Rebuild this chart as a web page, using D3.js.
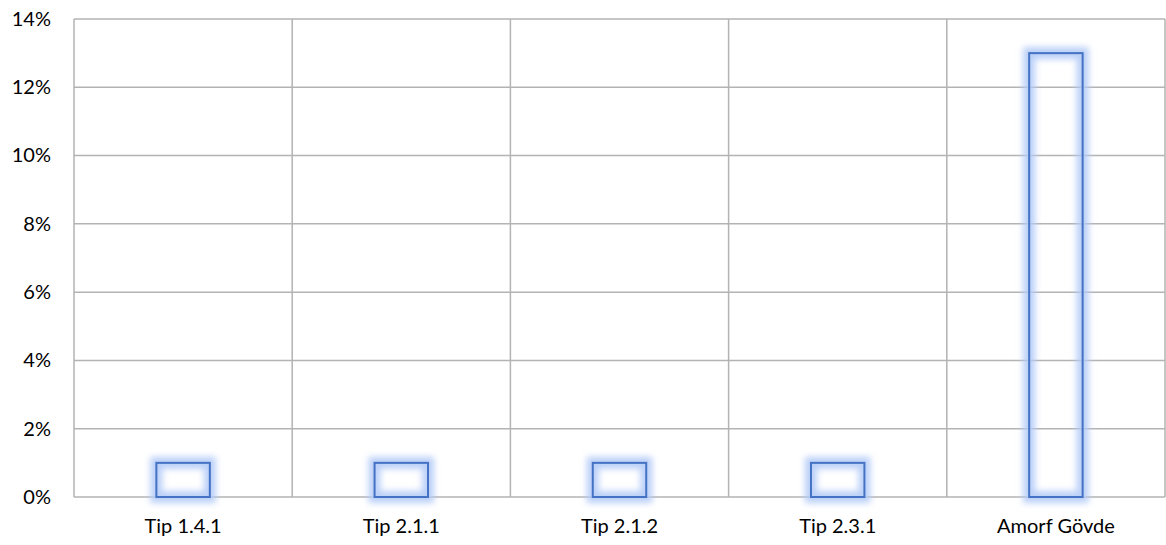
<!DOCTYPE html>
<html><head><meta charset="utf-8">
<script src="https://cdn.jsdelivr.net/npm/d3@7"></script>
<style>body{margin:0;background:#fff}svg{display:block}</style>
</head><body>
<script>
const categories = ["Tip 1.4.1","Tip 2.1.1","Tip 2.1.2","Tip 2.3.1","Amorf Gövde"];
const values = [0.01,0.01,0.01,0.01,0.13];
const yTicks = [0,0.02,0.04,0.06,0.08,0.10,0.12,0.14];

const W=1166,H=545;
const m={l:74,r:1,t:19,b:48};
const FONT='Lato,"Open Sans",sans-serif', FS="20px";
const svg=d3.select("body").append("svg").attr("width",W).attr("height",H);
const defs=svg.append("defs");
const f=defs.append("filter").attr("id","glow").attr("x","-50%").attr("y","-50%").attr("width","200%").attr("height","200%");
f.append("feGaussianBlur").attr("in","SourceGraphic").attr("stdDeviation",3);

const x=d3.scaleBand().domain(categories).range([m.l,W-m.r]).paddingInner(0).paddingOuter(0);
const y=d3.scaleLinear().domain([0,0.14]).range([H-m.b,m.t]);
const g=svg.append("g");
g.selectAll(".hg").data(yTicks).join("line")
 .attr("x1",m.l).attr("x2",W-m.r).attr("y1",d=>y(d)).attr("y2",d=>y(d))
 .attr("stroke","#b3b3b3").attr("stroke-width",1.5);
const vx=categories.map(c=>x(c)).concat([x(categories[categories.length-1])+x.bandwidth()]);
g.selectAll(".vg").data(vx).join("line")
 .attr("x1",d=>d).attr("x2",d=>d).attr("y1",y(0.14)).attr("y2",y(0))
 .attr("stroke","#b3b3b3").attr("stroke-width",1.5);
const yAxis=d3.axisLeft(y).tickValues(yTicks).tickFormat(d3.format(".0%")).tickSize(0).tickPadding(23);
svg.append("g").attr("transform",`translate(${m.l},0)`).call(yAxis).call(a=>a.select(".domain").remove())
 .selectAll("text").style("font-family",FONT).style("font-size",FS).attr("fill","#000");
const xAxis=d3.axisBottom(x).tickSize(0).tickPadding(22);
svg.append("g").attr("transform",`translate(0,${y(0)})`).call(xAxis).call(a=>a.select(".domain").remove())
 .selectAll("text").style("font-family",FONT).style("font-size",FS).attr("fill","#000");
const bw=x.bandwidth()*0.245;
const bars=svg.append("g");
const data=categories.map((c,i)=>({c,v:values[i]}));
bars.selectAll(".glow").data(data).join("rect")
 .attr("x",d=>x(d.c)+x.bandwidth()/2-bw/2).attr("width",bw)
 .attr("y",d=>y(d.v)).attr("height",d=>y(0)-y(d.v))
 .attr("fill","none").attr("stroke","#b4cbf7").attr("stroke-width",12).attr("stroke-opacity",0.9).attr("filter","url(#glow)");
bars.selectAll(".bar").data(data).join("rect")
 .attr("x",d=>x(d.c)+x.bandwidth()/2-bw/2).attr("width",bw)
 .attr("y",d=>y(d.v)).attr("height",d=>y(0)-y(d.v))
 .attr("fill","none").attr("stroke","#4472C4").attr("stroke-width",2);
</script>
</body></html>
